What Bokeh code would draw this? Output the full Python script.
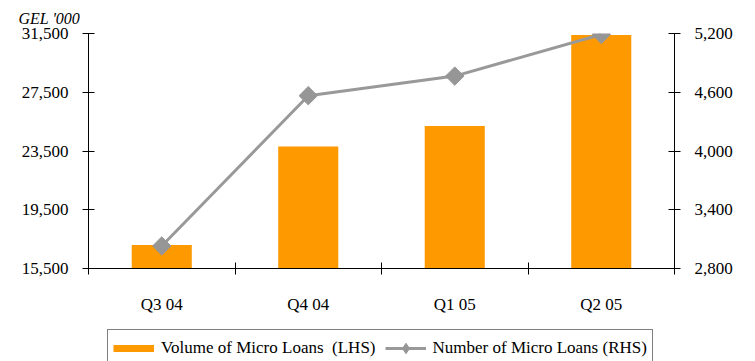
import math
from bokeh.plotting import figure
from bokeh.layouts import column
from bokeh.models import (Range1d, LinearAxis, FixedTicker, NumeralTickFormatter,
                          Legend, LegendItem, Title)
from bokeh.embed import file_html
from bokeh.resources import INLINE

categories = ["Q3 04", "Q4 04", "Q1 05", "Q2 05"]
volume_lhs = [17100, 23800, 25200, 31400]
number_rhs = [3030, 4565, 4765, 5190]
left_ticks = [15500, 19500, 23500, 27500, 31500]
right_ticks = [2800, 3400, 4000, 4600, 5200]
unit_label = "GEL '000"
series_names = ["Volume of Micro Loans  (LHS)", "Number of Micro Loans (RHS)"]

FONT = "Liberation Serif"
BAR = "#FF9900"
GREY = "#999999"
MARK = "#969696"

xs = [i + 0.5 for i in range(len(categories))]

p = figure(width=755, height=326, output_backend="svg", toolbar_location=None,
           x_range=Range1d(0, len(categories)),
           y_range=Range1d(left_ticks[0], left_ticks[-1]),
           min_border_left=88, min_border_right=81, min_border_top=33,
           min_border_bottom=58, x_axis_location=None, y_axis_location=None)
p.outline_line_color = None
p.xgrid.visible = False
p.ygrid.visible = False
p.background_fill_color = "white"
p.border_fill_color = "white"

p.extra_y_ranges = {"right": Range1d(right_ticks[0], right_ticks[-1])}

def style_axis(ax):
    ax.axis_line_color = "black"
    ax.axis_line_width = 1
    ax.major_tick_line_color = "black"
    ax.major_label_text_font = FONT
    ax.major_label_text_font_size = "17px"
    ax.major_label_text_color = "black"
    ax.major_tick_in = 6
    ax.major_tick_out = 6
    ax.minor_tick_line_color = None

xaxis = LinearAxis(ticker=FixedTicker(ticks=xs, minor_ticks=list(range(len(categories) + 1))))
style_axis(xaxis)
xaxis.major_label_overrides = {x: c for x, c in zip(xs, categories)}
xaxis.major_tick_in = 0
xaxis.major_tick_out = 0
xaxis.minor_tick_line_color = "black"
xaxis.minor_tick_in = 6
xaxis.minor_tick_out = 6
xaxis.major_label_standoff = 20
p.add_layout(xaxis, "below")

yl = LinearAxis(ticker=FixedTicker(ticks=left_ticks), formatter=NumeralTickFormatter(format="0,0"))
style_axis(yl)
yl.major_label_standoff = 14
p.add_layout(yl, "left")

yr = LinearAxis(y_range_name="right", ticker=FixedTicker(ticks=right_ticks),
                formatter=NumeralTickFormatter(format="0,0"))
style_axis(yr)
yr.major_label_standoff = 14
p.add_layout(yr, "right")

p.vbar(x=xs, top=volume_lhs, bottom=left_ticks[0], width=0.41,
       fill_color=BAR, line_color=None)
p.line(x=xs, y=number_rhs, y_range_name="right", line_color=GREY, line_width=3)
p.scatter(x=xs, y=number_rhs, y_range_name="right", marker="square",
          angle=math.pi / 4, size=13, fill_color=MARK, line_color=MARK)

title = Title(text=unit_label, align="left", offset=-70, text_font=FONT,
              text_font_style="italic", text_font_size="16px", text_color="black",
              standoff=10, vertical_align="top")
p.add_layout(title, "above")

# legend strip below the chart
p2 = figure(width=755, height=35, output_backend="svg", toolbar_location=None,
            x_range=Range1d(0, 1), y_range=Range1d(0, 1),
            min_border=0, x_axis_location=None, y_axis_location=None)
p2.outline_line_color = None
p2.xgrid.visible = False
p2.ygrid.visible = False
p2.background_fill_color = "white"
p2.border_fill_color = "white"
nan = float("nan")
sw = p2.line(x=[0, 1], y=[nan, nan], line_color=BAR, line_width=7, line_cap="butt")
ln2 = p2.line(x=[0, 1], y=[nan, nan], line_color=GREY, line_width=3)
mk2 = p2.scatter(x=[0], y=[nan], marker="diamond", size=13,
                 fill_color=MARK, line_color=MARK)

legend = Legend(items=[LegendItem(label=series_names[0], renderers=[sw]),
                       LegendItem(label=series_names[1], renderers=[ln2, mk2])],
                orientation="horizontal", location=(19, -6))
legend.label_text_font = FONT
legend.label_text_font_size = "17px"
legend.label_text_color = "black"
legend.glyph_width = 41
legend.glyph_height = 26
legend.label_standoff = 7
legend.spacing = 9
legend.padding = 5
legend.margin = 0
legend.border_line_color = "black"
legend.border_line_width = 1
legend.background_fill_color = "white"
legend.background_fill_alpha = 1
p2.add_layout(legend, "center")

open("out.html", "w").write(file_html(column(p, p2, spacing=0), INLINE))
